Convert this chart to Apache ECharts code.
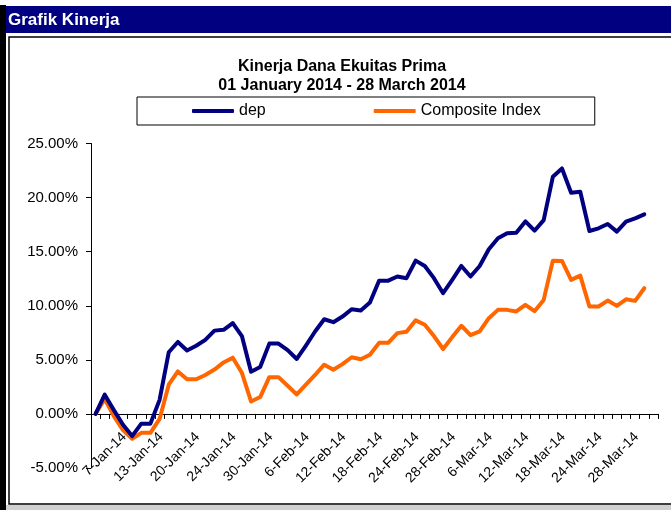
<!DOCTYPE html>
<html>
<head>
<meta charset="utf-8">
<script src="https://cdn.jsdelivr.net/npm/echarts@6/dist/echarts.min.js"></script>
<style>
  html, body { margin: 0; padding: 0; background: #fff; }
  #main { width: 671px; height: 510px; }
</style>
</head>
<body>
<div id="main"></div>
<script>
// tanggal perdagangan (kategori terakhir kosong, seperti di Excel)
var dates = [
  '1-Jan-14', '2-Jan-14', '3-Jan-14', '6-Jan-14', '7-Jan-14', '8-Jan-14', '9-Jan-14', '10-Jan-14',
  '13-Jan-14', '15-Jan-14', '16-Jan-14', '17-Jan-14', '20-Jan-14', '21-Jan-14', '22-Jan-14', '23-Jan-14',
  '24-Jan-14', '27-Jan-14', '28-Jan-14', '29-Jan-14', '30-Jan-14', '3-Feb-14', '4-Feb-14', '5-Feb-14',
  '6-Feb-14', '7-Feb-14', '10-Feb-14', '11-Feb-14', '12-Feb-14', '13-Feb-14', '14-Feb-14', '17-Feb-14',
  '18-Feb-14', '19-Feb-14', '20-Feb-14', '21-Feb-14', '24-Feb-14', '25-Feb-14', '26-Feb-14', '27-Feb-14',
  '28-Feb-14', '3-Mar-14', '4-Mar-14', '5-Mar-14', '6-Mar-14', '7-Mar-14', '10-Mar-14', '11-Mar-14',
  '12-Mar-14', '13-Mar-14', '14-Mar-14', '17-Mar-14', '18-Mar-14', '19-Mar-14', '20-Mar-14', '21-Mar-14',
  '24-Mar-14', '25-Mar-14', '26-Mar-14', '27-Mar-14', '28-Mar-14', '31-Mar-14'
];

// kinerja dalam persen
var depValues = [
  0, 1.78, 0.35, -1.0, -2.05, -0.9, -0.9, 1.3, 5.7, 6.65, 5.87,
  6.3, 6.85, 7.7, 7.78, 8.4, 7.2, 3.9, 4.33, 6.5, 6.5,
  5.9, 5.08, 6.32, 7.62, 8.75, 8.48, 9.0, 9.68, 9.56, 10.3,
  12.32, 12.32, 12.7, 12.55, 14.17, 13.68, 12.55, 11.16, 12.39, 13.68,
  12.7, 13.68, 15.22, 16.24, 16.7, 16.75, 17.8, 16.94, 17.92, 21.92,
  22.69, 20.44, 20.54, 16.91, 17.16, 17.56, 16.85, 17.77, 18.08, 18.45
];
var compositeValues = [
  0, 1.38, -0.2, -1.5, -2.3, -1.75, -1.75, -0.46, 2.7, 3.93, 3.2,
  3.2, 3.6, 4.1, 4.76, 5.2, 3.8, 1.15, 1.56, 3.4, 3.4,
  2.6, 1.8, 2.7, 3.6, 4.55, 4.09, 4.6, 5.24, 5.05, 5.47,
  6.57, 6.57, 7.47, 7.6, 8.65, 8.24, 7.2, 6.0, 7.1, 8.15,
  7.28, 7.63, 8.85, 9.62, 9.62, 9.47, 10.08, 9.5, 10.54, 14.17,
  14.14, 12.39, 12.79, 9.93, 9.93, 10.48, 9.99, 10.6, 10.45, 11.62
];
var seriesNames = ['dep', 'Composite Index'];
var yTicks = [-5, 0, 5, 10, 15, 20, 25];

var font = "'Liberation Sans', Arial, sans-serif";

var chart = echarts.init(document.getElementById('main'));

var option = {
  animation: false,
  backgroundColor: '#fff',
  textStyle: { fontFamily: font },
  graphic: [
    { type: 'rect', shape: { x: 0, y: 5, width: 6, height: 505 }, style: { fill: '#000' } },
    { type: 'rect', shape: { x: 6, y: 6, width: 665, height: 27 }, style: { fill: '#000080' } },
    {
      type: 'text', x: 8, y: 20,
      style: { text: 'Grafik Kinerja', fill: '#fff', font: 'bold 17px ' + font, verticalAlign: 'middle' }
    },
    {
      type: 'rect', shape: { x: 9, y: 37, width: 680, height: 467 },
      style: { fill: 'none', stroke: '#000', lineWidth: 1.5 }
    },
    { type: 'rect', shape: { x: 6, y: 505, width: 665, height: 5 }, style: { fill: '#d0d0d0' } }
  ],
  title: [
    {
      text: 'Kinerja Dana Ekuitas Prima',
      left: 342, top: 59, textAlign: 'center', padding: 0,
      textStyle: { fontSize: 16, fontWeight: 'bold', color: '#000', fontFamily: font }
    },
    {
      text: '01 January 2014 - 28 March 2014',
      left: 342, top: 78, textAlign: 'center', padding: 0,
      textStyle: { fontSize: 16, fontWeight: 'bold', color: '#000', fontFamily: font }
    }
  ],
  legend: {
    data: seriesNames,
    left: 137, top: 97,
    padding: [6, 54, 6, 55],
    itemGap: 108,
    itemWidth: 42, itemHeight: 4,
    icon: 'roundRect',
    borderColor: '#000', borderWidth: 1,
    textStyle: { fontSize: 16, color: '#000', fontFamily: font }
  },
  grid: { left: 91, right: 13, top: 143.5, bottom: 42, containLabel: false, outerBoundsMode: 'none' },
  xAxis: {
    type: 'category',
    data: dates,
    boundaryGap: true,
    axisLine: { onZero: true, lineStyle: { color: '#000', width: 1 } },
    axisTick: { show: true, interval: 0, length: 5, lineStyle: { color: '#000' } },
    axisLabel: {
      rotate: 45,
      fontSize: 14,
      color: '#000',
      margin: -41,
      padding: [0, 11, 0, 0],
      interval: function (index) { return index > 0 && index % 4 === 0; }
    },
    splitLine: { show: false }
  },
  yAxis: {
    type: 'value',
    min: yTicks[0], max: yTicks[yTicks.length - 1], interval: 5,
    axisLine: { show: true, lineStyle: { color: '#000', width: 1 } },
    axisTick: { show: true, length: 5, lineStyle: { color: '#000' } },
    axisLabel: {
      fontSize: 15, color: '#000', margin: 13,
      formatter: function (v) { return v.toFixed(2) + '%'; }
    },
    splitLine: { show: false }
  },
  series: [
    {
      name: seriesNames[0], type: 'line', data: depValues,
      symbol: 'none', showSymbol: false,
      itemStyle: { color: '#000080' },
      lineStyle: { color: '#000080', width: 4, cap: 'round', join: 'round' },
      z: 3
    },
    {
      name: seriesNames[1], type: 'line', data: compositeValues,
      symbol: 'none', showSymbol: false,
      itemStyle: { color: '#FF6600' },
      lineStyle: { color: '#FF6600', width: 4, cap: 'round', join: 'round' },
      z: 2
    }
  ]
};

chart.setOption(option);
</script>
</body>
</html>
